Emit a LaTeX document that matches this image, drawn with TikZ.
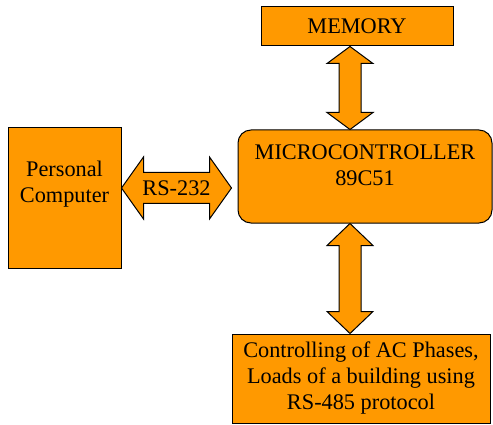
\documentclass[tikz,border=0pt]{standalone}
\usepackage{fontspec}
\setmainfont{Liberation Serif}
\usetikzlibrary{calc}
\definecolor{boxorange}{HTML}{FF9900}
\tikzset{
  blk/.style={draw=black, line width=1pt, fill=boxorange, inner sep=0pt},
  txt/.style={align=center, font=\fontsize{22.3}{26}\selectfont, inner sep=0pt},
  barrow/.style={draw=black, line width=1pt, fill=boxorange, line join=miter}
}
\newcommand\varrowpath[3]{% top, bottom, head length
  \draw[barrow] let \p1=#1, \p2=#2 in
   (\x1,\y1) -- (\x1+23pt,\y1-#3) -- (\x1+11pt,\y1-#3) -- (\x1+11pt,\y2+#3)
   -- (\x1+23pt,\y2+#3) -- (\x1,\y2) -- (\x1-23pt,\y2+#3) -- (\x1-11pt,\y2+#3)
   -- (\x1-11pt,\y1-#3) -- (\x1-23pt,\y1-#3) -- cycle;}
\newcommand\harrowpath[3]{% left, right, head length
  \draw[barrow] let \p1=#1, \p2=#2 in
   (\x1,\y1) -- (\x1+#3,\y1+31pt) -- (\x1+#3,\y1+15.5pt) -- (\x2-#3,\y1+15.5pt)
   -- (\x2-#3,\y1+31pt) -- (\x2,\y1) -- (\x2-#3,\y1-31pt) -- (\x2-#3,\y1-15.5pt)
   -- (\x1+#3,\y1-15.5pt) -- (\x1+#3,\y1-31pt) -- cycle;}
\begin{document}
\begin{tikzpicture}[x=1pt,y=-1pt]
\useasboundingbox (0,0) rectangle (493,425);
% boxes
\node[blk, minimum width=113pt, minimum height=140pt] (pc) at (64.5,198) {};
\node[txt] (pctext) at ([yshift=14pt]pc.center) {Personal\\Computer};
\node[blk, rounded corners=13pt, minimum width=254pt, minimum height=93pt] (micro) at (365,176.5) {};
\node[txt] (microtext) at ([yshift=11.5pt]micro.center) {MICROCONTROLLER\\89C51};
\node[blk, minimum width=192pt, minimum height=39pt, txt] (mem) at (357,26.5) {MEMORY};
\node[blk, minimum width=258pt, minimum height=89pt, txt] (load) at (361,378.5)
  {Controlling of AC Phases,\\Loads of a building using\\RS-485 protocol};
% axis helpers
\coordinate (ax) at (350,0);
\coordinate (ay) at (0,188);
% arrows
\varrowpath{(mem.south -| ax)}{(micro.north -| ax)}{17pt}
\varrowpath{(micro.south -| ax)}{(load.north -| ax)}{22pt}
\harrowpath{(pc.east |- ay)}{([xshift=-6pt]micro.west |- ay)}{22pt}
\node[txt] (rs) at ($(pc.east |- ay)!0.5!([xshift=-6pt]micro.west |- ay)$) {RS-232};
\end{tikzpicture}
\end{document}
